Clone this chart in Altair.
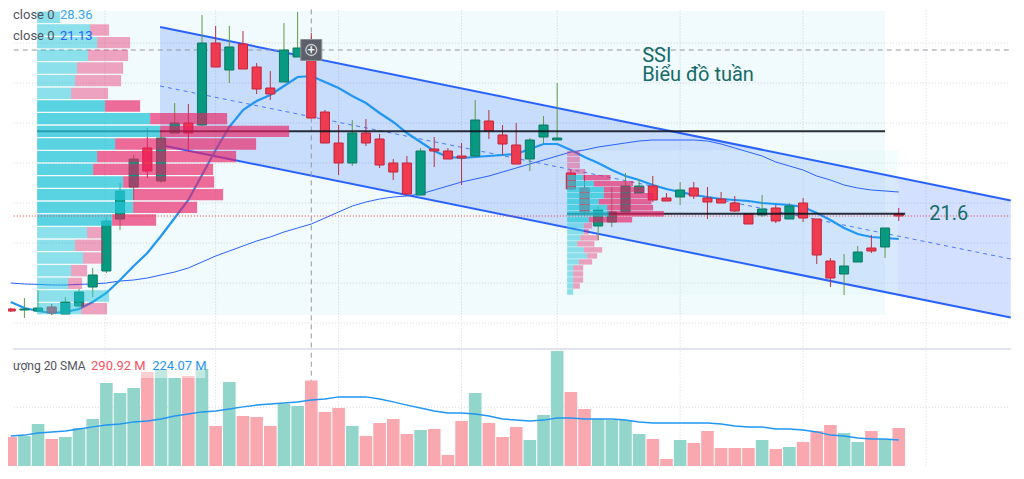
import altair as alt
import numpy as np
import pandas as pd

# ---------------- data (weekly candles 1..66) ----------------
week = list(range(1, 67))
open_px = [16.95, 16.9, 16.85, 17.05, 16.7, 17.1, 18.05, 18.85, 21.45, 23.05,
           25.0, 23.35, 25.75, 26.25, 26.15, 30.25, 28.9, 30.2, 29.05, 28.0,
           28.3, 29.55, 29.9, 26.8, 25.25, 24.25, 25.75, 25.45, 24.25, 24.25,
           22.65, 24.95, 24.85, 24.6, 24.6, 26.35, 25.65, 25.15, 24.45, 25.55,
           25.4, 23.75, 23.0, 21.1, 21.3, 21.8, 22.75, 23.1, 22.5, 22.55,
           23.0, 22.5, 22.45, 22.25, 21.7, 21.65, 22.0, 21.45, 22.25, 21.45,
           19.35, 18.7, 19.3, 20.0, 20.05, 21.7]
close_px = [16.85, 16.95, 17.0, 16.75, 17.3, 17.8, 18.65, 21.35, 22.85, 24.45,
            23.85, 25.5, 26.25, 25.75, 30.25, 29.05, 30.05, 28.95, 27.95, 27.7,
            29.9, 30.0, 26.5, 25.25, 24.25, 25.75, 25.25, 24.15, 23.8, 22.7,
            24.85, 24.85, 24.45, 24.5, 26.4, 25.85, 25.2, 24.2, 25.4, 26.15,
            25.5, 22.95, 21.8, 21.9, 21.8, 23.1, 23.1, 22.4, 22.35, 22.9,
            22.6, 22.3, 22.25, 21.85, 21.2, 21.95, 21.35, 22.1, 21.5, 19.65,
            18.5, 19.1, 19.8, 19.85, 21.0, 21.6]
high_px = [17.0, 17.5, 17.9, 17.2, 17.55, 17.95, 19.0, 21.55, 23.25, 24.65,
           26.0, 25.9, 27.25, 27.2, 31.65, 31.1, 31.1, 30.85, 29.25, 28.85,
           31.25, 31.8, 30.75, 26.9, 26.15, 26.4, 26.45, 25.7, 24.45, 24.6,
           25.0, 25.55, 25.0, 25.25, 27.4, 26.9, 26.15, 26.25, 25.5, 26.6,
           28.25, 23.9, 23.65, 22.1, 23.05, 23.75, 23.45, 23.6, 22.75, 23.3,
           23.3, 23.05, 22.8, 22.6, 21.7, 22.65, 22.15, 22.25, 22.5, 21.45,
           19.5, 19.7, 20.1, 20.65, 21.0, 22.0]
low_px = [16.8, 16.5, 16.85, 16.65, 16.7, 17.05, 17.55, 18.75, 20.9, 22.4,
          23.5, 23.25, 25.75, 24.8, 26.1, 29.05, 28.25, 28.95, 27.7, 27.4,
          28.3, 29.55, 26.5, 25.25, 23.65, 24.1, 25.1, 24.0, 23.4, 22.65,
          22.65, 24.05, 24.45, 23.15, 24.6, 25.45, 24.65, 24.2, 23.85, 25.25,
          25.4, 22.9, 21.65, 20.4, 21.05, 21.8, 22.75, 22.3, 22.35, 22.15,
          22.45, 21.45, 22.25, 21.8, 21.2, 21.55, 21.25, 21.45, 21.3, 19.2,
          18.05, 17.65, 19.3, 19.75, 19.5, 21.35]
volume_m = [98.6, 102, 142.8, 91.8, 98.6, 129.2, 159.8, 282.2, 248.2, 265.2,
            319.6, 326.4, 299.2, 306, 329.8, 136, 285.6, 170, 166.6, 136,
            210.8, 204, 290.92, 183.6, 197.2, 136, 102, 146.2, 159.8, 108.8,
            122.4, 125.8, 37.4, 153, 248.2, 146.2, 98.6, 132.6, 88.4, 173.4,
            391, 251.6, 193.8, 159.8, 156.4, 156.4, 108.8, 91.8, 23.8, 88.4,
            78.2, 119, 61.2, 61.2, 61.2, 88.4, 57.8, 64.6, 81.6, 119,
            139.4, 112.2, 81.6, 119, 91.8, 129.2]
vol_sma20 = [102, 105, 112, 116, 119, 126, 133, 139, 143, 150,
             153, 160, 170, 177, 184, 187, 194, 201, 207, 211,
             214, 218, 224.07, 228, 235, 235, 235, 228, 218, 207,
             197, 187, 180, 180, 177, 170, 160, 156, 153, 156,
             163, 163, 160, 160, 160, 156, 150, 146, 146, 146,
             146, 146, 143, 136, 133, 133, 126, 126, 122, 116,
             105, 102, 95, 92, 92, 88]
ma20 = [17.3, 17.0, 16.85, 16.75, 16.8, 16.95, 17.3, 17.75, 18.4, 19.1,
        19.75, 20.6, 21.5, 22.4, 23.65, 24.9, 26.05, 26.9, 27.35, 27.65,
        28.1, 28.55, 28.6, 28.3, 28.0, 27.6, 27.25, 26.75, 26.3, 25.75,
        25.3, 24.85, 24.55, 24.5, 24.55, 24.6, 24.65, 24.7, 24.95, 25.2,
        25.2, 24.9, 24.55, 24.25, 23.9, 23.6, 23.4, 23.15, 22.95, 22.8,
        22.65, 22.55, 22.45, 22.4, 22.35, 22.25, 22.2, 22.15, 22.05, 21.75,
        21.4, 21.0, 20.7, 20.55, 20.5, 20.45]
ma50 = [18.25, 18.2, 18.18, 18.15, 18.15, 18.18, 18.2, 18.25, 18.35, 18.4,
        18.5, 18.65, 18.8, 19.0, 19.3, 19.6, 19.85, 20.1, 20.35, 20.55,
        20.8, 21.0, 21.2, 21.5, 21.8, 22.1, 22.3, 22.45, 22.55, 22.6,
        22.7, 22.9, 23.1, 23.3, 23.45, 23.6, 23.8, 24.0, 24.2, 24.4,
        24.6, 24.8, 24.9, 25.05, 25.15, 25.25, 25.35, 25.4, 25.4, 25.4,
        25.4, 25.35, 25.2, 25.0, 24.8, 24.6, 24.3, 24.1, 23.9, 23.6,
        23.4, 23.15, 23.0, 22.9, 22.85, 22.8]

# regression channel (start week, prices at start and at week 74.2)
chan_week = [11.93, 74.2]
chan_upper = [31.05, 22.38]
chan_lower = [25.15, 16.52]

# fixed-range volume profiles (up / down volume per price row, top row first)
prof1_up = [23, 53, 60, 51, 40, 38, 34, 68, 113, 123, 78, 60, 56, 86, 96, 96, 75, 50, 38, 46, 34, 31, 72, 44]
prof1_down = [0, 19, 33, 40, 46, 46, 37, 35, 77, 129, 141, 139, 120, 91, 90, 64, 44, 15, 28, 20, 16, 14, 0, 26]
prof1_va = list(range(7, 17))
prof1_price = [31.85, 16.65]
prof1_weeks = [2.93, 65.0]

prof2_up = [0, 0, 0, 0, 16, 26.7, 36.7, 36.7, 31.7, 40, 41.7, 21.7, 16.7, 16.7, 13.3, 10, 16.7, 20, 11.7, 6, 6, 6, 6, 6]
prof2_down = [12.7, 12.7, 12.7, 18.3, 27.3, 39.3, 40.7, 50, 52.7, 46, 55, 43.3, 8.3, 5, 18.3, 17.3, 18.3, 10, 13.3, 10, 10, 10, 6.7, 0]
prof2_va = list(range(4, 12))
prof2_price = [24.87, 17.65]
prof2_weeks = [41.73, 65.96]
prof2_poc_end = 66.47

last_price = 21.6
cursor_week = 23
cursor_price = 29.9
grid_weeks = [7.9, 16.0, 25.0, 34.0, 41.0, 50.0, 59.0, 68.0]
grid_prices = [16.25, 18.25, 20.25, 22.25, 24.25, 26.25, 28.25, 30.25]
grid_vols = [200]

# ---------------- layout / scales ----------------
W, HP, HV = 1008, 340, 118
PX_PER_WEEK = 13.66 / 0.99
UNITS_TO_WEEKS = 1 / 13.66
X0 = 1.1655
X1 = X0 + W / PX_PER_WEEK
xs = alt.Scale(domain=[X0, X1], nice=False, zero=False)
ps = alt.Scale(domain=[15.0, 32.0], nice=False, zero=False)
vs = alt.Scale(domain=[0, 401.2], nice=False, zero=False)

GREEN, GREEN_EDGE, GREEN_WICK = "#089981", "#0b7a62", "#5e9c45"
RED, RED_EDGE, RED_WICK = "#ef3b50", "#c4243a", "#b8323f"
TEAL_TXT = "#146c69"
GRID = "#d3d6dd"
FONT = "Roboto"
up_test = "datum.close >= datum.open"

df = pd.DataFrame({"week": week, "open": open_px, "high": high_px, "low": low_px,
                   "close": close_px, "volume": volume_m, "vol_sma": vol_sma20,
                   "ma20": ma20, "ma50": ma50})
chan = pd.DataFrame({"week": chan_week, "upper": chan_upper, "lower": chan_lower})
chan["mid"] = (chan["upper"] + chan["lower"]) / 2


def build_profile(up, down, va, price, weeks):
    edges = np.linspace(price[0], price[1], len(up) + 1)
    rows = []
    for k in range(len(up)):
        hi, lo = edges[k], edges[k + 1]
        tag = "_va" if k in va else ""
        rows.append(dict(lo=lo, hi=hi, v0=0, v1=up[k], kind="up" + tag, start=weeks[0]))
        rows.append(dict(lo=lo, hi=hi, v0=up[k], v1=up[k] + down[k], kind="down" + tag, start=weeks[0]))
    tot = np.array(up) + np.array(down)
    k = int(np.argmax(tot))
    poc = (edges[k] + edges[k + 1]) / 2
    return pd.DataFrame(rows), poc


p1, poc1 = build_profile(prof1_up, prof1_down, prof1_va, prof1_price, prof1_weeks)
p2, poc2 = build_profile(prof2_up, prof2_down, prof2_va, prof2_price, prof2_weeks)
prof = pd.concat([p1, p2], ignore_index=True)

X = lambda f: alt.X(f, type="quantitative", scale=xs, axis=None)
YP = lambda f: alt.Y(f, type="quantitative", scale=ps, axis=None)
YV = lambda f: alt.Y(f, type="quantitative", scale=vs, axis=None)


def rule(data, **kw):
    return alt.Chart(data).mark_rule(clip=True, **kw)


EDGE = [X0 + 0.06, X1 - 0.06]
hspan = lambda d: d.assign(xa=EDGE[0], xb=EDGE[1])

# ---------------- price panel ----------------
vgrid = rule(pd.DataFrame({"week": grid_weeks, "ya": 15.03, "yb": 31.97}),
             color=GRID, strokeDash=[1, 2], strokeWidth=1).encode(x=X("week"), y=YP("ya"), y2="yb")
hgrid = rule(hspan(pd.DataFrame({"p": grid_prices})), color=GRID, strokeDash=[1, 2],
             strokeWidth=1).encode(x=X("xa"), x2="xb", y=YP("p"))

bg = pd.DataFrame({"x0": [prof1_weeks[0]], "x1": [prof1_weeks[1]],
                   "y0": [prof1_price[1]], "y1": [prof1_price[0]]})
bg2 = pd.DataFrame({"x0": [prof2_weeks[0]], "x1": [prof2_weeks[1]],
                    "y0": [prof2_price[1]], "y1": [prof2_price[0]]})
bg1_layer = alt.Chart(bg).mark_rect(color="#00acc1", opacity=0.055, clip=True).encode(
    x=X("x0"), x2="x1", y=YP("y0"), y2="y1")
bg2_layer = alt.Chart(bg2).mark_rect(color="#e0f7fa", opacity=0.35, clip=True).encode(
    x=X("x0"), x2="x1", y=YP("y0"), y2="y1")

chan_fill = alt.Chart(chan).mark_area(color="#2962ff", opacity=0.2, clip=True).encode(
    x=X("week"), y=YP("upper"), y2="lower")
chan_up = alt.Chart(chan).mark_line(color="#2962ff", strokeWidth=2, clip=True).encode(
    x=X("week"), y=YP("upper"))
chan_lo = alt.Chart(chan).mark_line(color="#2962ff", strokeWidth=2, clip=True).encode(
    x=X("week"), y=YP("lower"))
chan_mid = alt.Chart(chan).mark_line(color="#2962ff", strokeWidth=1, strokeDash=[4, 4],
                                     opacity=0.8, clip=True).encode(x=X("week"), y=YP("mid"))

ma50_line = alt.Chart(df).mark_line(color="#2962ff", strokeWidth=1, clip=True).encode(
    x=X("week"), y=YP("ma50"))
ma20_line = alt.Chart(df).mark_line(color="#2196f3", strokeWidth=2.2, clip=True).encode(
    x=X("week"), y=YP("ma20"))

cur = pd.DataFrame({"week": [cursor_week], "p": [cursor_price]})
cross_v = rule(cur.assign(ya=15.03, yb=31.97), color="#9598a1", strokeDash=[5, 4],
               strokeWidth=1).encode(x=X("week"), y=YP("ya"), y2="yb")
cross_h = rule(hspan(cur), color="#9598a1", strokeDash=[5, 4], strokeWidth=1).encode(
    x=X("xa"), x2="xb", y=YP("p"))

wicks = rule(df, strokeWidth=1).encode(
    x=X("week"), y=YP("low"), y2="high",
    color=alt.condition(up_test, alt.value(GREEN_WICK), alt.value(RED_WICK)))
bodies = alt.Chart(df).mark_bar(size=9.1, strokeWidth=1, clip=True).encode(
    x=X("week"), y=YP("open"), y2="close",
    fill=alt.condition(up_test, alt.value(GREEN), alt.value(RED)),
    stroke=alt.condition(up_test, alt.value(GREEN_EDGE), alt.value(RED_EDGE)))

poc_df = pd.DataFrame({"x0": [prof1_weeks[0], prof2_weeks[0]],
                       "x1": [prof1_weeks[1], prof2_poc_end],
                       "p": [poc1, poc2]})
poc_lines = rule(poc_df, color="#131722", strokeWidth=2, opacity=0.9).encode(
    x=X("x0"), x2="x1", y=YP("p"))

kind_style = {"up_va": ("#26c6da", 0.75), "down_va": ("#e91e63", 0.65),
              "up": ("#26c6da", 0.5), "down": ("#e91e63", 0.4)}
prof_layers = []
for kind, (col, op) in kind_style.items():
    prof_layers.append(
        alt.Chart(prof).transform_filter(alt.datum.kind == kind).transform_calculate(
            x0=f"datum.start + datum.v0 * {UNITS_TO_WEEKS}",
            x1=f"datum.start + datum.v1 * {UNITS_TO_WEEKS}",
            ylo="datum.lo + (datum.hi - datum.lo) * 0.05",
            yhi="datum.hi - (datum.hi - datum.lo) * 0.05",
        ).mark_rect(color=col, opacity=op, clip=True).encode(
            x=X("x0:Q"), x2="x1:Q", y=YP("ylo:Q"), y2="yhi:Q"))

last_line = rule(hspan(pd.DataFrame({"p": [last_price]})), color="#f23645", strokeDash=[1, 2],
                 strokeWidth=1).encode(x=X("xa"), x2="xb", y=YP("p"))


def texts(rows, color, size, align, baseline, yscale_fn):
    return alt.Chart(pd.DataFrame(rows)).mark_text(
        color=color, fontSize=size, align=align, baseline=baseline, font=FONT,
        clip=True).encode(x=X("week"), y=yscale_fn("y"), text="t:N")


leg1 = texts([{"week": X0, "y": 31.65, "t": "close 0"},
              {"week": X0, "y": 30.6, "t": "close 0"}], "#50535e", 13, "left", "middle", YP)
leg2 = texts([{"week": 4.6, "y": 31.65, "t": "28.36"}], "#42a5f5", 13, "left", "middle", YP)
leg3 = texts([{"week": 4.6, "y": 30.6, "t": "21.13"}], "#2962ff", 13, "left", "middle", YP)
title1 = texts([{"week": 47.22, "y": 29.3, "t": "SSI"},
                {"week": 47.22, "y": 28.35, "t": "Biểu đồ tuần"}], TEAL_TXT, 20, "left", "alphabetic", YP)
price_lbl = texts([{"week": 68.23, "y": 21.4, "t": "21.6"}], TEAL_TXT, 20, "left", "alphabetic", YP)

icon_sq = alt.Chart(cur).mark_square(size=441, color="#5d606b", opacity=1, clip=True,
                                     stroke="#8a8d96", strokeWidth=1).encode(x=X("week"), y=YP("p"))
icon_ring = alt.Chart(cur).mark_point(shape="circle", size=120, filled=False, color="white",
                                      strokeWidth=1.3, clip=True).encode(x=X("week"), y=YP("p"))
icon_plus = alt.Chart(cur.assign(t="+")).mark_text(color="white", fontSize=13, align="center",
                                                   baseline="middle", font=FONT, clip=True).encode(
    x=X("week"), y=YP("p"), text="t:N")

price_panel = alt.layer(
    vgrid, hgrid, bg1_layer, chan_fill, bg2_layer, chan_mid, chan_up, chan_lo,
    ma50_line, ma20_line, cross_v, cross_h, wicks, bodies, poc_lines, *prof_layers,
    last_line, leg1, leg2, leg3, title1, price_lbl, icon_sq, icon_ring, icon_plus
).properties(width=W, height=HP)

# ---------------- volume panel ----------------
vvgrid = rule(pd.DataFrame({"week": grid_weeks, "ya": 1.0, "yb": 400.0}),
              color=GRID, strokeDash=[1, 2], strokeWidth=1).encode(x=X("week"), y=YV("ya"), y2="yb")
vhgrid = rule(hspan(pd.DataFrame({"v": grid_vols})), color=GRID, strokeDash=[1, 2],
              strokeWidth=1).encode(x=X("xa"), x2="xb", y=YV("v"))
sep = alt.Chart(pd.DataFrame({"x0": [X0], "x1": [X1], "v0": [394.4], "v1": [401.2]})).mark_rect(
    color="#e0e3eb", clip=True).encode(x=X("x0"), x2="x1", y=YV("v0"), y2="v1")
vcross = rule(cur.assign(ya=1.0, yb=394.0), color="#9598a1", strokeDash=[5, 4],
              strokeWidth=1).encode(x=X("week"), y=YV("ya"), y2="yb")
vol_bars = alt.Chart(df).mark_bar(size=12.6, clip=True).encode(
    x=X("week"), y=YV("volume"),
    color=alt.condition(up_test, alt.value("#92d5ca"), alt.value("#faa8b0")))
legend_bg = alt.Chart(pd.DataFrame({"x0": [X0], "x1": [15.23], "v0": [299], "v1": [394.4]})).mark_rect(
    color="white", opacity=0.45, clip=True).encode(x=X("x0"), x2="x1", y=YV("v0"), y2="v1")
sma_line = alt.Chart(df).mark_line(color="#2196f3", strokeWidth=1.5, clip=True).encode(
    x=X("week"), y=YV("vol_sma"))
vleg1 = texts([{"week": X0, "y": 340, "t": "ượng 20 SMA"}], "#50535e", 12, "left", "middle", YV)
vleg2 = texts([{"week": 6.88, "y": 340, "t": "290.92 M"}], "#f7525f", 13, "left", "middle", YV)
vleg3 = texts([{"week": 11.35, "y": 340, "t": "224.07 M"}], "#2196f3", 13, "left", "middle", YV)

vol_panel = alt.layer(vvgrid, vhgrid, sep, vcross, vol_bars, legend_bg, sma_line, vleg1, vleg2, vleg3
                      ).properties(width=W, height=HV)

chart = alt.vconcat(price_panel, vol_panel, spacing=0).resolve_scale(
    x="independent", y="independent").properties(
    padding={"left": 0, "right": 0, "top": 0, "bottom": 0}, background="white"
).configure(font=FONT).configure_view(stroke=None)

chart.save("out.html", embed_options={"renderer": "svg", "actions": False})
